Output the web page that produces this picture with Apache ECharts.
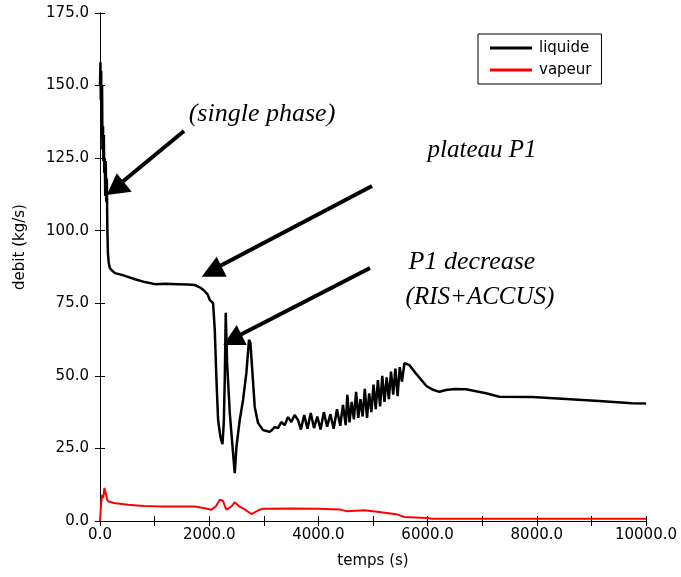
<!DOCTYPE html>
<html>
<head>
<meta charset="utf-8">
<script src="https://cdn.jsdelivr.net/npm/echarts@6/dist/echarts.min.js"></script>
<style>
html,body{margin:0;padding:0;background:#fff;}
#chart{width:681px;height:577px;}
</style>
</head>
<body>
<div id="chart"></div>
<script>
// ---- data ----
const xTicks = [0, 2000, 4000, 6000, 8000, 10000];
const yTicks = [0, 25, 50, 75, 100, 125, 150, 175];

const liquideTemps = [
  0, 8, 15, 22, 30, 38, 45, 55, 62, 70, 78, 88, 96, 105, 115, 125, 135, 146, 160, 183,
  220, 274, 400, 512, 640, 823, 1005, 1200, 1426, 1600, 1737, 1828, 1900, 1974, 2011,
  2071, 2102, 2133, 2163, 2206, 2243, 2267, 2285, 2303, 2328, 2377, 2437, 2468, 2499,
  2559, 2620, 2681, 2729, 2755, 2792, 2834, 2894, 2986, 3050, 3108, 3160, 3199, 3260,
  3321, 3382, 3443, 3504, 3565, 3626, 3680, 3740, 3800, 3860, 3920, 3980, 4040, 4100,
  4160, 4220, 4280, 4340, 4400, 4450, 4500, 4530, 4570, 4610, 4650, 4690, 4730, 4770,
  4810, 4850, 4890, 4930, 4970, 5010, 5050, 5090, 5130, 5170, 5210, 5250, 5290, 5330,
  5370, 5410, 5450, 5490, 5530, 5576, 5667, 5800, 5978, 6100, 6216, 6338, 6500, 6704,
  7070, 7313, 7916, 8537, 9141, 9744, 10000
];
const liquideDebit = [
  150, 158, 145, 155, 132, 150, 128, 136, 124, 133, 120, 125, 112, 124, 110, 118, 100, 92, 89, 87,
  86.3, 85.4, 84.8, 84.1, 83.3, 82.3, 81.6, 81.7, 81.6, 81.5, 81.3, 80.5, 79.5, 78, 76.1,
  75.1, 65.8, 48.6, 34.8, 28.9, 26.5, 33.8, 48.6, 71.7, 54.4, 37.2, 23.4, 16.5, 25.5,
  34.8, 41.7, 51, 62.4, 61.3, 51, 39.3, 33.8, 31.3, 31.0, 30.7, 31.5, 32.4, 32,
  34.1, 33, 35.8, 34.1, 36.5, 34.8, 31.5, 36.5, 31.8, 37.2, 32.0, 36.0, 31.5, 37.5,
  32.5, 36.8, 31.8, 38.5, 32.8, 40.0, 33.0, 43.5, 34.0, 41.0, 35.0, 44.5, 35.5, 42.0,
  36.0, 45.5, 35.5, 44.0, 37.5, 47.0, 38.5, 48.5, 39.5, 50.0, 41.0, 49.5, 42.0, 51.5,
  43.5, 52.5, 43.0, 53.0, 48.0, 54.4, 53.7, 50.5, 46.5, 45.2, 44.5, 45.1, 45.5, 45.4,
  44.0, 42.8, 42.7, 42.0, 41.3, 40.6, 40.5
];

const vapeurTemps = [
  0, 20, 40, 60, 80, 100, 130, 146, 250, 512, 800, 1130, 1740, 1900, 2040, 2120, 2195,
  2250, 2290, 2316, 2407, 2468, 2550, 2650, 2773, 2925, 2986, 3500, 4000, 4388, 4510,
  4845, 5150, 5450, 5576, 5972, 6100, 10000
];
const vapeurDebit = [
  0, 6, 9, 8, 11.4, 10, 7.5, 6.8, 6.2, 5.6, 5.2, 5.0, 5.0, 4.5, 3.9, 5.0, 7.3,
  7.0, 5.0, 3.9, 5.0, 6.5, 5.0, 4.0, 2.4, 3.9, 4.2, 4.3, 4.2, 4.0, 3.4,
  3.7, 3.0, 2.2, 1.4, 1.0, 0.8, 0.8
];

const seriesNames = ['liquide', 'vapeur'];
const xName = 'temps (s)';
const yName = 'debit (kg/s)';

// ---- chart ----
const zip = (a, b) => a.map((t, i) => [t, b[i]]);
const font = '"DejaVu Sans", sans-serif';
const chart = echarts.init(document.getElementById('chart'), null, {renderer: 'canvas'});

const axisCommon = {
  type: 'value',
  axisLine: {show: true, lineStyle: {color: '#000', width: 1}},
  axisTick: {show: true, inside: true, length: 5, lineStyle: {color: '#000', width: 1}},
  splitLine: {show: false}
};

chart.setOption({
  animation: false,
  backgroundColor: '#fff',
  grid: {left: 100, right: 35, top: 13, bottom: 56, containLabel: false},
  xAxis: [
    Object.assign({}, axisCommon, {
      position: 'bottom', min: 0, max: 10000, interval: 1000,
      name: xName, nameLocation: 'middle', nameGap: 33,
      nameTextStyle: {fontFamily: font, fontSize: 15, color: '#000'},
      axisLabel: {
        margin: 7, fontFamily: font, fontSize: 15, color: '#000',
        showMaxLabel: true,
        formatter: v => xTicks.indexOf(v) >= 0 ? v.toFixed(1) : ''
      }
    }),
    Object.assign({}, axisCommon, {
      position: 'top', min: 0, max: 10000, interval: 1000,
      axisLabel: {show: false}
    })
  ],
  yAxis: [
    Object.assign({}, axisCommon, {
      position: 'left', min: 0, max: 175, interval: 25,
      name: yName, nameLocation: 'middle', nameGap: 72, nameRotate: 90,
      nameTextStyle: {fontFamily: font, fontSize: 15, color: '#000', padding: [0, 0, 0, 40]},
      axisLabel: {
        margin: 11, fontFamily: font, fontSize: 15, color: '#000',
        formatter: v => yTicks.indexOf(v) >= 0 ? v.toFixed(1) : ''
      }
    }),
    Object.assign({}, axisCommon, {
      position: 'right', min: 0, max: 175, interval: 25,
      axisLabel: {show: false}
    })
  ],
  legend: {
    data: seriesNames.map(n => ({name: n, icon: 'rect'})),
    orient: 'vertical',
    left: 478, top: 34,
    padding: [3, 10, 3, 12],
    itemWidth: 42, itemHeight: 3, itemGap: 0,
    borderColor: '#000', borderWidth: 1, borderRadius: 0,
    backgroundColor: '#fff',
    textStyle: {fontFamily: font, fontSize: 15, color: '#000', lineHeight: 22, padding: [0, 0, 0, 2]}
  },
  series: [
    {
      name: seriesNames[0], type: 'line', xAxisIndex: 0, yAxisIndex: 0,
      data: zip(liquideTemps, liquideDebit),
      symbol: 'none', lineStyle: {color: '#000', width: 2.5}, itemStyle: {color: '#000'},
      z: 3
    },
    {
      name: seriesNames[1], type: 'line', xAxisIndex: 0, yAxisIndex: 0,
      data: zip(vapeurTemps, vapeurDebit),
      symbol: 'none', lineStyle: {color: '#ff0000', width: 2}, itemStyle: {color: '#ff0000'},
      z: 2
    }
  ],
  graphic: [
    // annotation texts
    {type: 'text', x: 262, y: 114, style: {text: '(single phase)', font: 'italic 26px "Liberation Serif", serif', fill: '#000', textAlign: 'center', textVerticalAlign: 'middle'}},
    {type: 'text', x: 482, y: 150, style: {text: 'plateau P1', font: 'italic 25px "Liberation Serif", serif', fill: '#000', textAlign: 'center', textVerticalAlign: 'middle'}},
    {type: 'text', x: 472, y: 262, style: {text: 'P1 decrease', font: 'italic 26px "Liberation Serif", serif', fill: '#000', textAlign: 'center', textVerticalAlign: 'middle'}},
    {type: 'text', x: 480, y: 297, style: {text: '(RIS+ACCUS)', font: 'italic 25px "Liberation Serif", serif', fill: '#000', textAlign: 'center', textVerticalAlign: 'middle'}},
    // arrows: shafts
    {type: 'line', shape: {x1: 184, y1: 131, x2: 121, y2: 183}, style: {stroke: '#000', lineWidth: 4}, z: 10},
    {type: 'line', shape: {x1: 372, y1: 186, x2: 218, y2: 267}, style: {stroke: '#000', lineWidth: 4}, z: 10},
    {type: 'line', shape: {x1: 370, y1: 268, x2: 238, y2: 336}, style: {stroke: '#000', lineWidth: 4}, z: 10},
    // arrows: heads
    {type: 'polygon', shape: {points: [[106.7, 195], [116.7, 173.3], [131.7, 191.7]]}, style: {fill: '#000'}, z: 10},
    {type: 'polygon', shape: {points: [[201.7, 276.7], [216.7, 256.7], [226.7, 276.7]]}, style: {fill: '#000'}, z: 10},
    {type: 'polygon', shape: {points: [[223.3, 345], [236.7, 325], [246.7, 345]]}, style: {fill: '#000'}, z: 10}
  ]
});
</script>
</body>
</html>
